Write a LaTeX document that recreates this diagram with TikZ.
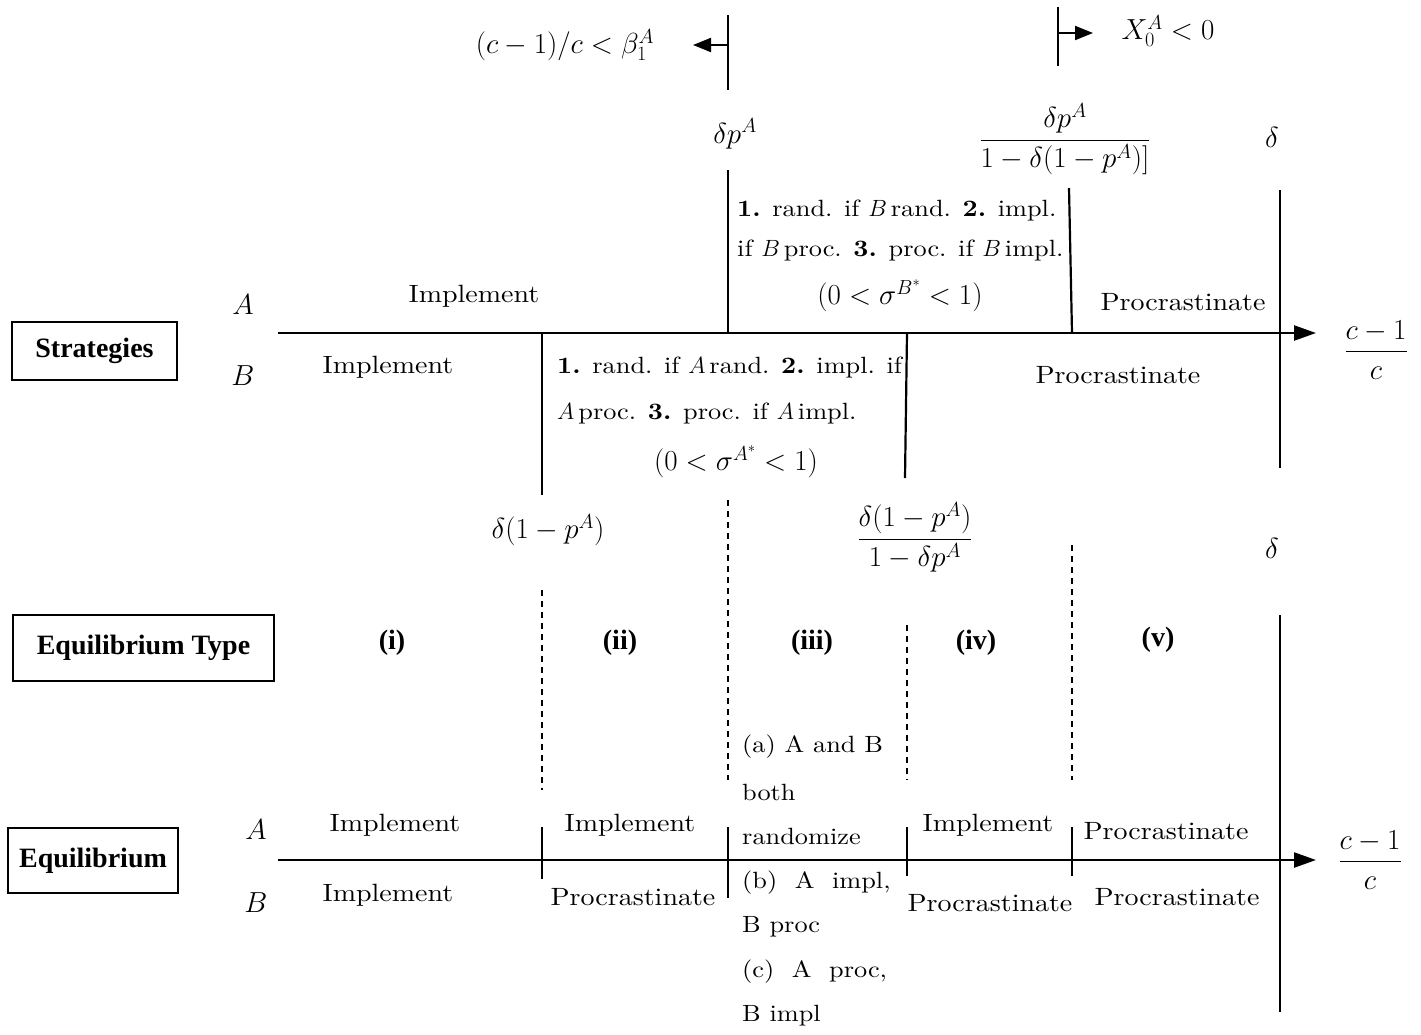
\RequirePackage{fix-cm}
\documentclass[tikz,border=0pt]{standalone}
\usepackage{amsmath}
\usepackage{fontspec}
\setmainfont{lmroman10}[Extension=.otf, UprightFont=*-regular, BoldFont=*-bold, ItalicFont=*-italic, BoldItalicFont=*-bolditalic, FakeStretch=1.12]
\newfontfamily\timesfont{Liberation Serif}
\usetikzlibrary{arrows.meta}
\tikzset{
  txt/.style={inner sep=0pt, font=\fontsize{25}{29}\selectfont},
  ltxt/.style={inner sep=0pt, anchor=west, font=\fontsize{23.5}{27}\selectfont},
  mth/.style={inner sep=0pt, font=\fontsize{29}{33}\selectfont},
  hdr/.style={inner sep=0pt, font=\timesfont\bfseries\fontsize{28}{32}\selectfont},
  boxed/.style={draw, line width=1.6pt, minimum height=0pt},
  axisline/.style={line width=2.4pt, -{Triangle[length=22pt,width=15pt]}},
  solidline/.style={line width=2.2pt},
  tickline/.style={line width=1.5pt},
  dashline/.style={line width=1.4pt, dash pattern=on 6pt off 5pt},
  toparrow/.style={line width=2pt, -{Triangle[length=18pt,width=14pt]}}
}
\begin{document}
\begin{tikzpicture}[x=1pt,y=-1pt]
\useasboundingbox (0,0) rectangle (1421,1034);

% ---------- top annotations ----------
\node[mth] (betalbl) at (565,45) {$(c-1)/c<\beta_1^A$};
\coordinate (lt1) at (728,15); \coordinate (lt2) at (728,90);
\draw[solidline] (lt1) -- (lt2);
\coordinate (la1) at (728,45); \coordinate (la2) at (693,45);
\draw[toparrow] (la1) -- (la2);

\node[mth] (xlbl) at (1168,31) {$X_0^A<0$};
\coordinate (rt1) at (1058,7); \coordinate (rt2) at (1058,66);
\draw[solidline] (rt1) -- (rt2);
\coordinate (ra1) at (1058,33); \coordinate (ra2) at (1093,33);
\draw[toparrow] (ra1) -- (ra2);

\node[mth] (dpa) at (735,134) {$\delta p^A$};
\node[mth] (frac1) at (1065,139) {$\dfrac{\delta p^A}{1-\delta(1-p^A)]}$};
\node[mth] (delta1) at (1272,137) {$\delta$};

% ---------- strategies ----------
\node[boxed, hdr, minimum width=165pt, minimum height=58pt] (strat) at (94.5,351) {Strategies};
\node[mth] (sA) at (243,305) {$A$};
\node[mth] (sB) at (243,376) {$B$};
\coordinate (ax1s) at (278,333); \coordinate (ax1e) at (1316,333);
\draw[axisline] (ax1s) -- (ax1e);
\node[mth] (cfrac1) at (1376,350) {$\dfrac{c-1}{c}$};

\coordinate (u1t) at (728,170); \coordinate (u1b) at (728,333);
\draw[solidline] (u1t) -- (u1b);
\coordinate (u2t) at (1069,188); \coordinate (u2b) at (1072,333);
\draw[solidline] (u2t) -- (u2b);
\coordinate (u3t) at (1280,190); \coordinate (u3b) at (1280,468);
\draw[solidline] (u3t) -- (u3b);
\coordinate (d1t) at (542,333); \coordinate (d1b) at (542,495);
\draw[solidline] (d1t) -- (d1b);
\coordinate (d2t) at (907,333); \coordinate (d2b) at (905,478);
\draw[solidline] (d2t) -- (d2b);

\node[txt] (sAi) at (474,296) {Implement};
\node[txt] (sAp) at (1183,302) {Procrastinate};
\node[txt] (sBi) at (388,367) {Implement};
\node[txt] (sBp) at (1118,375) {Procrastinate};

\node[ltxt] (ub1) at (737,210) {\textbf{1.} rand. if $B$\,rand. \textbf{2.} impl.};
\node[ltxt] (ub2) at (737,250) {if $B$\,proc. \textbf{3.} proc. if $B$\,impl.};
\node[mth] (ub3) at (900,296) {$(0<\sigma^{B^*}<1)$};

\node[ltxt] (lb1) at (557,367) {\textbf{1.} rand. if $A$\,rand. \textbf{2.} impl. if};
\node[ltxt] (lb2) at (557,413) {$A$\,proc. \textbf{3.} proc. if $A$\,impl.};
\node[mth] (lb3) at (736,462) {$(0<\sigma^{A^*}<1)$};

% ---------- thresholds ----------
\node[mth] (dl1) at (548,530) {$\delta(1-p^A)$};
\node[mth] (frac2) at (915,537) {$\dfrac{\delta(1-p^A)}{1-\delta p^A}$};
\node[mth] (delta2) at (1272,548) {$\delta$};

\coordinate (ds1t) at (728,500); \coordinate (ds1b) at (728,780);
\draw[dashline] (ds1t) -- (ds1b);
\coordinate (ds2t) at (542,590); \coordinate (ds2b) at (542,790);
\draw[dashline] (ds2t) -- (ds2b);
\coordinate (ds3t) at (907,625); \coordinate (ds3b) at (907,780);
\draw[dashline] (ds3t) -- (ds3b);
\coordinate (ds4t) at (1072,545); \coordinate (ds4b) at (1072,780);
\draw[dashline] (ds4t) -- (ds4b);
\coordinate (bigt) at (1280,615); \coordinate (bigb) at (1280,1012);
\draw[solidline] (bigt) -- (bigb);

% ---------- equilibrium type ----------
\node[boxed, hdr, minimum width=261pt, minimum height=66pt] (eqtype) at (143.5,648) {Equilibrium Type};
\node[hdr] (ti) at (392,643) {(i)};
\node[hdr] (tii) at (620,643) {(ii)};
\node[hdr] (tiii) at (812,643) {(iii)};
\node[hdr] (tiv) at (976,643) {(iv)};
\node[hdr] (tv) at (1158,640) {(v)};

% ---------- equilibrium ----------
\node[boxed, hdr, minimum width=170pt, minimum height=65pt] (eq) at (93,860.5) {Equilibrium};
\node[mth] (eA) at (256,830) {$A$};
\node[mth] (eB) at (256,903) {$B$};
\coordinate (ax2s) at (278,860); \coordinate (ax2e) at (1316,860);
\draw[axisline] (ax2s) -- (ax2e);
\node[mth] (cfrac2) at (1370,860) {$\dfrac{c-1}{c}$};

\coordinate (t1t) at (542,827); \coordinate (t1b) at (542,879);
\draw[tickline] (t1t) -- (t1b);
\coordinate (t2t) at (728,827); \coordinate (t2b) at (728,898);
\draw[tickline] (t2t) -- (t2b);
\coordinate (t3t) at (907,827); \coordinate (t3b) at (907,876);
\draw[tickline] (t3t) -- (t3b);
\coordinate (t4t) at (1072,827); \coordinate (t4b) at (1072,876);
\draw[tickline] (t4t) -- (t4b);

\node[txt] (eAi1) at (395,825) {Implement};
\node[txt] (eAi2) at (630,825) {Implement};
\node[txt] (eAi4) at (988,825) {Implement};
\node[txt] (eAp5) at (1166,831) {Procrastinate};
\node[txt] (eBi1) at (388,895) {Implement};
\node[txt] (eBp2) at (633,897) {Procrastinate};
\node[txt] (eBp4) at (990,903) {Procrastinate};
\node[txt] (eBp5) at (1177,897) {Procrastinate};

\node[ltxt] (c1) at (742,747) {(a) A and B};
\node[ltxt] (c2) at (742,792) {both};
\node[ltxt] (c3) at (742,836) {randomize};
\node[ltxt] (c4) at (742,883) {(b)\ \ A\ \ impl,};
\node[ltxt] (c5) at (742,927) {B proc};
\node[ltxt] (c6) at (742,972) {(c)\ \ A\ \ proc,};
\node[ltxt] (c7) at (742,1016) {B impl};
\end{tikzpicture}
\end{document}
